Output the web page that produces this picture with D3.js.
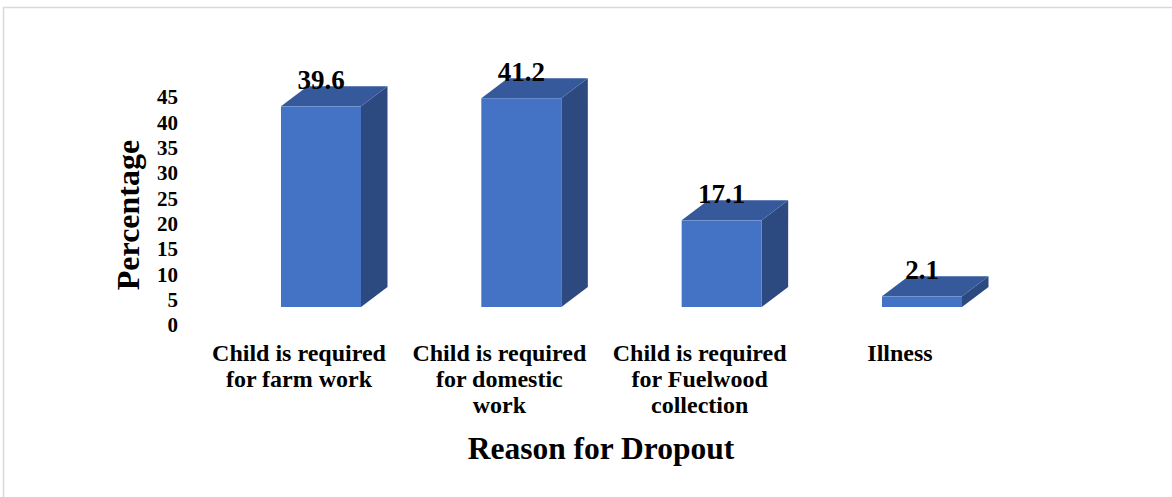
<!DOCTYPE html>
<html>
<head>
<meta charset="utf-8">
<script src="https://cdn.jsdelivr.net/npm/d3@7"></script>
<style>
  html, body { margin: 0; padding: 0; background: #ffffff; }
  svg { display: block; }
  text { font-family: "Liberation Serif", "Times New Roman", serif; font-weight: bold; fill: #000; }
</style>
</head>
<body>
<svg id="chart" width="1172" height="497"></svg>
<script>
// Reasons for school dropout and their share (%)
const categories = [
  "Child is required for farm work",
  "Child is required for domestic work",
  "Child is required for Fuelwood collection",
  "Illness"
];
const categoryLines = [
  ["Child is required", "for farm work"],
  ["Child is required", "for domestic", "work"],
  ["Child is required", "for Fuelwood", "collection"],
  ["Illness"]
];
const percentages = [39.6, 41.2, 17.1, 2.1];
const yTicks = [0, 5, 10, 15, 20, 25, 30, 35, 40, 45];
const yTitle = "Percentage";
const xTitle = "Reason for Dropout";

const svg = d3.select("#chart");

// outer frame
svg.append("path")
  .attr("d", "M3.5,497 L3.5,7.5 L1172,7.5")
  .attr("fill", "none")
  .attr("stroke", "#d9d9d9")
  .attr("stroke-width", 1.5);

// scales
const x = d3.scalePoint().domain(categories).range([321, 922]);
const y = d3.scaleLinear().domain([0, 45]).range([307, 79]);

const barW = 80;       // front face width
const depthX = 26.5;   // 3D depth offset
const depthY = -20;

const colFront = "#4472c4";
const colTop = "#35599b";
const colSide = "#2c4a80";

const bars = svg.append("g").selectAll("g")
  .data(categories.map((c, i) => ({ c, v: percentages[i] })))
  .join("g");

// side face
bars.append("path")
  .attr("fill", colSide)
  .attr("d", d => {
    const x1 = x(d.c) + barW / 2, yt = y(d.v), yb = y(0);
    return `M${x1},${yb} L${x1},${yt} L${x1 + depthX},${yt + depthY} L${x1 + depthX},${yb + depthY} Z`;
  });

// top face
bars.append("path")
  .attr("fill", colTop)
  .attr("d", d => {
    const x0 = x(d.c) - barW / 2, x1 = x(d.c) + barW / 2, yt = y(d.v);
    return `M${x0},${yt} L${x1},${yt} L${x1 + depthX},${yt + depthY} L${x0 + depthX},${yt + depthY} Z`;
  });

// front face
bars.append("rect")
  .attr("fill", colFront)
  .attr("x", d => x(d.c) - barW / 2)
  .attr("y", d => y(d.v))
  .attr("width", barW)
  .attr("height", d => y(0) - y(d.v));

// value labels
bars.append("text")
  .attr("x", d => x(d.c))
  .attr("y", d => y(d.v) - 17)
  .attr("text-anchor", "middle")
  .style("font-size", "27px")
  .text(d => d.v.toFixed(1));

// y-axis tick labels
svg.append("g").selectAll("text")
  .data(yTicks)
  .join("text")
  .attr("x", 178)
  .attr("y", d => y(d) + 18)
  .attr("dy", "0.35em")
  .attr("text-anchor", "end")
  .style("font-size", "21px")
  .text(d => d);

// y-axis title
svg.append("text")
  .attr("transform", "translate(139,215) rotate(-90)")
  .attr("text-anchor", "middle")
  .style("font-size", "32px")
  .text(yTitle);

// category labels
const catG = svg.append("g").selectAll("text")
  .data(categories.map((c, i) => ({ c, lines: categoryLines[i] })))
  .join("text")
  .attr("text-anchor", "middle")
  .style("font-size", "24px");
catG.selectAll("tspan")
  .data(d => d.lines.map((t, j) => ({ t, j, cx: x(d.c) - 22 })))
  .join("tspan")
  .attr("x", d => d.cx)
  .attr("y", d => 361 + d.j * 26)
  .text(d => d.t);

// x-axis title
svg.append("text")
  .attr("x", 601)
  .attr("y", 459)
  .attr("text-anchor", "middle")
  .style("font-size", "31.5px")
  .text(xTitle);
</script>
</body>
</html>
